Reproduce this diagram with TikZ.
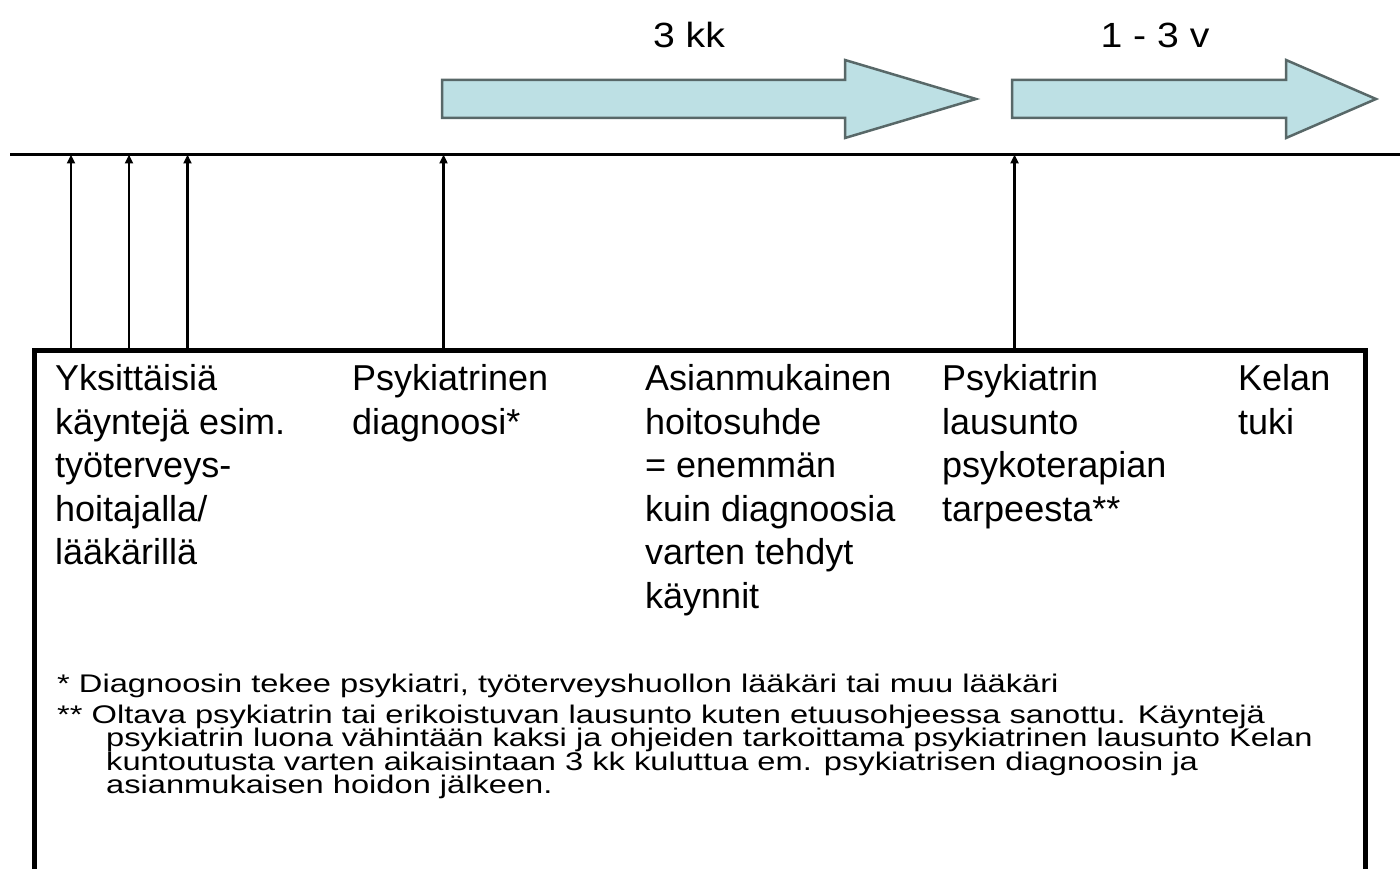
\documentclass[tikz,border=0pt]{standalone}
\usepackage{fontspec}
\setmainfont{Liberation Sans}
\newfontfamily\fnfont{Liberation Sans}[FakeStretch=1.28]
\newfontfamily\lblfont{Liberation Sans}[FakeStretch=1.12]
\usetikzlibrary{arrows.meta}
\definecolor{arrfill}{RGB}{189,224,228}
\definecolor{arredge}{RGB}{88,104,104}
\newcommand{\tstrutA}{\rule{0pt}{34pt}}
\newcommand{\tstrutB}{\rule{0pt}{25pt}}
\newcommand{\tightlines}{\lineskiplimit=-100pt\relax}
\begin{document}
\begin{tikzpicture}[x=1pt,y=-1pt,
  bigarrow/.style={fill=arrfill,draw=arredge,line width=2.5pt,line join=miter},
  tick/.style={line width=2.6pt,-{Triangle[length=9pt,width=8pt]}},
  coltext/.style={anchor=north west,inner sep=0pt,align=left,font=\fontsize{36}{43.5}\selectfont},
  fntext/.style={anchor=north west,inner sep=0pt,align=left,font=\fnfont\fontsize{25.5}{23.5}\selectfont\tightlines},
  toplabel/.style={anchor=base,inner sep=0pt,font=\lblfont\fontsize{35}{42}\selectfont}]
\useasboundingbox (0,0) rectangle (1400,869);
\fill[white] (0,0) rectangle (1400,869);

% top period arrows
\draw[bigarrow] (442,80) -- (845,80) -- (845,60) -- (976,99) -- (845,138) -- (845,118) -- (442,118) -- cycle;
\draw[bigarrow] (1012,80) -- (1286,80) -- (1286,60) -- (1376,99) -- (1286,138) -- (1286,118) -- (1012,118) -- cycle;
\node[toplabel] (kk) at (689,48) {3 kk};
\node[toplabel] (vv) at (1155,48) {1 - 3 v};

% timeline
\coordinate (tlL) at (10,154.5);
\coordinate (tlR) at (1400,154.5);
\draw[line width=3pt] (tlL) -- (tlR);

% box
\coordinate (bxBL) at (34.5,880);
\coordinate (bxTL) at (34.5,350);
\coordinate (bxTR) at (1365.5,350);
\coordinate (bxBR) at (1365.5,880);
\draw[line width=5pt,line join=miter] (bxBL) -- (bxTL) -- (bxTR) -- (bxBR);

% ticks
\foreach \i/\xx in {1/71,2/129,3/187.5,4/443.5,5/1014.5}{
  \coordinate (p\i) at (\xx,154.5);
  \coordinate (q\i) at (\xx,350);
  \draw[tick] (q\i) -- (p\i);
}

% column texts
\node[coltext] (c1) at (55,356.5) {\tstrutA Yksittäisiä\\käyntejä esim.\\työterveys-\\hoitajalla/\\lääkärillä};
\node[coltext] (c2) at (352,356.5) {\tstrutA Psykiatrinen\\diagnoosi*};
\node[coltext] (c3) at (645,356.5) {\tstrutA Asianmukainen\\hoitosuhde\\= enemmän\\kuin diagnoosia\\varten tehdyt\\käynnit};
\node[coltext] (c4) at (942,356.5) {\tstrutA Psykiatrin\\lausunto\\psykoterapian\\tarpeesta**};
\node[coltext] (c5) at (1238,356.5) {\tstrutA Kelan\\tuki};

% footnotes
\node[fntext] (fn1) at (57,667) {\tstrutB * Diagnoosin tekee psykiatri, työterveyshuollon lääkäri tai muu lääkäri};
\node[fntext] (fn2) at (57,698) {\tstrutB ** Oltava psykiatrin tai erikoistuvan lausunto kuten etuusohjeessa sanottu. Käyntejä\\
\hspace*{49pt}psykiatrin luona vähintään kaksi ja ohjeiden tarkoittama psykiatrinen lausunto Kelan\\
\hspace*{49pt}kuntoutusta varten aikaisintaan 3 kk kuluttua em. psykiatrisen diagnoosin ja\\
\hspace*{49pt}asianmukaisen hoidon jälkeen.};
\end{tikzpicture}
\end{document}
